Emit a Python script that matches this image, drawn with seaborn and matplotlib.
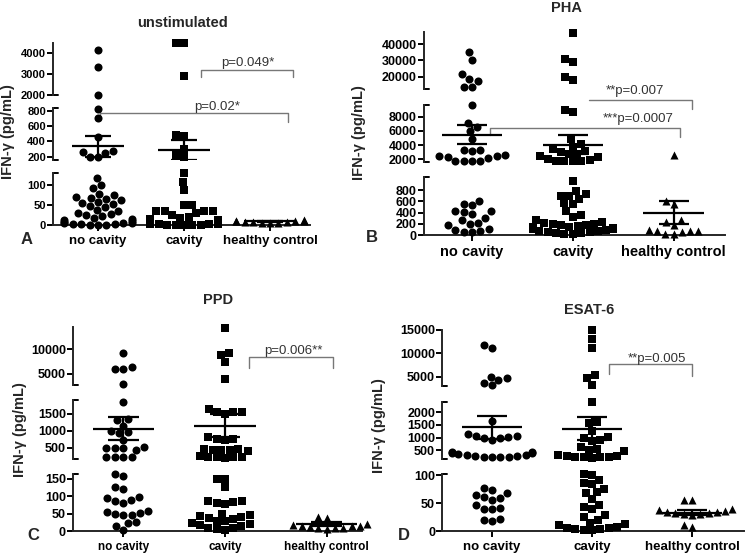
"""
IFN-gamma levels by cavity status, four stimulation conditions.
Broken y axes drawn as three stacked axes per panel.
"""
import matplotlib
matplotlib.use('Agg')
import matplotlib.pyplot as plt
import matplotlib.transforms as mtransforms
import seaborn as sns

groups = ['no cavity', 'cavity', 'healthy control']
markers = ['o', 's', '^']

# =============================================================================
# Data
# =============================================================================
# A - unstimulated
a_nocav = [4150, 3350, 2000, 820, 700, 460, 270, 260, 250, 195, 190,
           118, 100, 92, 78, 75, 70, 68, 65, 62, 58, 56, 52, 48, 45, 38,
           35, 30, 28, 25, 22, 18, 15, 12, 10, 8, 6, 5, 4, 3, 2, 2, 1, 0, 0]
a_cav = [4480, 4480, 2900, 480, 470, 300, 220, 195, 130, 108, 88, 50, 50,
         35, 35, 35, 35, 30, 25, 20, 18, 15, 12, 10, 10, 8, 8, 6, 5, 5, 4,
         3, 3, 2, 2, 1, 1, 0, 0, 0]
a_hc = [12, 11, 10, 10, 9, 8, 8, 7, 6, 5, 5]
a_mean = [340, 290, 9]
a_lo = [200, 160, 7]
a_hi = [470, 420, 11]

# B - PHA
b_nocav = [35300, 30600, 21500, 18500, 17200, 13800, 13800,
           9600, 7100, 6600, 6000, 4900, 3300, 3200, 3300, 2600, 2500, 2400,
           2300, 2200, 1800, 1750, 1700, 1700,
           600, 560, 530, 420, 420, 410, 380, 310, 260, 220, 200, 170, 100,
           90, 70, 60, 60]
b_cav = [47000, 31000, 29000, 20000, 18000,
         8900, 8700, 4900, 4100, 3800, 3500, 3100, 3000, 2800, 2700, 2500,
         2300, 2100, 1900, 1800, 1800, 1700, 1700,
         960, 780, 740, 700, 690, 650, 570, 560, 420, 350, 330, 260, 240,
         220, 200, 190, 180, 170, 160, 150, 140, 130, 120, 110, 100, 90, 80,
         70, 60, 50, 40, 30, 20, 10]
b_hc = [2600, 600, 550, 260, 240, 180, 90, 80, 80, 70, 60, 20, 10]
b_mean = [5400, 4000, 400]
b_lo = [4100, 2800, 200]
b_hi = [6800, 5400, 610]

# C - PPD
c_nocav = [9300, 6400, 6000, 6000, 2800,
           1850, 1350, 1300, 1150, 1000, 950, 930, 720, 520, 500, 500, 480,
           420, 230, 220, 220, 220,
           162, 158, 125, 120, 97, 95, 88, 85, 80, 58, 55, 52, 50, 45, 45,
           25, 22, 15, 2]
c_cav = [14300, 9200, 8800, 7400, 4000,
         1650, 1560, 1550, 1540, 1500, 800, 760, 750, 720, 460, 450, 440,
         430, 420, 400, 250, 240, 230, 220, 220, 210,
         165, 150, 150, 125, 85, 85, 82, 80, 78, 50, 45, 42, 40, 38, 35, 30,
         28, 22, 20, 18, 15, 10, 8, 5, 3]
c_hc = [40, 38, 20, 18, 15, 15, 14, 12, 10, 10, 8, 5]
c_mean = [1050, 1150, 20]
c_lo = [720, 800, 15]
c_hi = [1400, 1480, 25]

# D - ESAT-6
d_nocav = [11800, 11100, 5000, 4700, 4400, 3800, 3300,
           1650, 1150, 1050, 1020, 1000, 980, 1050, 900, 450, 420, 400, 380,
           350, 330, 300, 280, 260, 250, 240, 230, 220,
           78, 74, 68, 64, 62, 60, 56, 47, 42, 40, 40, 22, 18, 20]
d_cav = [14900, 13100, 11100, 5400, 4700, 3300,
         2380, 1620, 1550, 1260, 1020, 1000, 900, 880, 620, 560, 500, 480,
         300, 280, 260, 250, 240, 230, 220, 210,
         102, 100, 92, 86, 84, 76, 70, 68, 58, 47, 44, 40, 28, 26, 20, 15,
         12, 10, 8, 6, 5, 4, 3, 2, 1]
d_hc = [55, 55, 40, 38, 36, 35, 34, 33, 32, 30, 30, 28, 10, 8]
d_mean = [1400, 1350, 33]
d_lo = [950, 900, 28]
d_hi = [1830, 1800, 38]

# =============================================================================
# Layout (pixel positions in a 745x554 figure)
# =============================================================================
panels = [
    dict(data=[a_nocav, a_cav, a_hc], mean=a_mean, lo=a_lo, hi=a_hi,
         xpx=(53, 310), xlim=(-0.523, 2.465),
         segs=[((0, 130), 225, 173, [0, 50, 100]),
               ((157, 835), 160, 108, [200, 400, 600, 800]),
               ((2000, 4500), 95, 42.7, [2000, 3000, 4000])],
         title='unstimulated', title_xy=(182, 23), letter='A',
         letter_xy=(27, 240), ylab_xy=(8, 132), tick_fs=8, cat_fs=9.5,
         brackets=[(1.2, 2.27, 70, 77, 77, 'p=0.049*', 1.744, 63),
                   (0.02, 2.21, 112.7, 115, 121.7, 'p=0.02*', 1.38, 107)]),
    dict(data=[b_nocav, b_cav, b_hc], mean=b_mean, lo=b_lo, hi=b_hi,
         xpx=(423.7, 725), xlim=(-0.479, 2.509),
         segs=[((0, 1040), 235, 176.7, [0, 200, 400, 600, 800]),
               ((1660, 9650), 161.7, 105, [2000, 4000, 6000, 8000]),
               ((12200, 47800), 89.3, 31.7, [20000, 30000, 40000])],
         title='PHA', title_xy=(567, 8), letter='B',
         letter_xy=(372, 237), ylab_xy=(359, 133), tick_fs=9, cat_fs=10.5,
         brackets=[(1.157, 2.18, 100, 100, 109, '**p=0.007', 1.616, 90.7),
                   (0.18, 2.065, 127.7, 135, 136.7, '***p=0.0007', 1.65,
                    119)]),
    dict(data=[c_nocav, c_cav, c_hc], mean=c_mean, lo=c_lo, hi=c_hi,
         xpx=(72.7, 362), xlim=(-0.4975, 2.347),
         segs=[((0, 164), 531, 473.7, [0, 50, 100, 150]),
               ((176, 1894), 458.7, 400.3, [500, 1000, 1500]),
               ((2620, 14570), 385.3, 327, [5000, 10000])],
         title='PPD', title_xy=(218, 300), letter='C',
         letter_xy=(33, 535), ylab_xy=(20, 430), tick_fs=9, cat_fs=8.5,
         brackets=[(1.239, 2.065, 357, 367.7, 367.7, 'p=0.006**', 1.67,
                    351)]),
    dict(data=[d_nocav, d_cav, d_hc], mean=d_mean, lo=d_lo, hi=d_hi,
         xpx=(442, 743.7), xlim=(-0.5, 2.517),
         segs=[((0, 103), 531, 473.7, [0, 50, 100]),
               ((171, 2392), 458.7, 402, [500, 1000, 1500, 2000]),
               ((3030, 15000), 386.3, 329.7, [5000, 10000, 15000])],
         title='ESAT-6', title_xy=(589, 310), letter='D',
         letter_xy=(404, 535), ylab_xy=(379, 426), tick_fs=9, cat_fs=9.5,
         brackets=[(1.167, 2.0, 364.3, 373.7, 376, '**p=0.005', 1.65,
                    358.7)]),
]

# =============================================================================
# Plot
# =============================================================================
sns.set_theme(style='ticks')
plt.rcParams['font.family'] = ['Liberation Sans', 'DejaVu Sans']

W, H = 745, 554
fig = plt.figure(figsize=(W / 100, H / 100), dpi=100)
fig.patch.set_facecolor('white')

LW = 1.4
cap_px = 5

for p in panels:
    x0, x1 = p['xpx']
    axes = []
    for k, (lims, ybot, ytop, ticks) in enumerate(p['segs']):
        ax = fig.add_axes([x0 / W, 1 - ybot / H, (x1 - x0) / W,
                           (ybot - ytop) / H])
        ax.patch.set_alpha(0)
        for i, vals in enumerate(p['data']):
            seg = [v for v in vals if lims[0] <= v <= lims[1]]
            if seg:
                sns.swarmplot(x=[groups[i]] * len(seg), y=seg, order=groups,
                              marker=markers[i], color='black', size=5.8,
                              linewidth=0, ax=ax, warn_thresh=1)
        for coll in ax.collections:
            coll.set_clip_on(False)

        for i in range(3):
            ax.hlines(p['mean'][i], i - 0.3, i + 0.3, color='black',
                      lw=1.6, zorder=4)
            ax.vlines(i, p['lo'][i], p['hi'][i], color='black', lw=1.6,
                      zorder=4)
            ax.hlines([p['lo'][i], p['hi'][i]], i - 0.15, i + 0.15,
                      color='black', lw=1.6, zorder=4)

        ax.set_xlim(*p['xlim'])
        ax.set_ylim(*lims)
        ax.set_yticks(ticks)
        ax.set_yticklabels([str(t) for t in ticks], fontsize=p['tick_fs'],
                           fontweight='bold')
        ax.set_ylabel('')
        ax.set_xlabel('')
        for s in ['top', 'right']:
            ax.spines[s].set_visible(False)
        ax.spines['left'].set_linewidth(LW)
        ax.tick_params(axis='y', direction='out', length=4, width=LW,
                       pad=1, colors='black')
        if k == 0:
            ax.spines['bottom'].set_linewidth(LW)
            ax.set_xticks([0, 1, 2])
            ax.set_xticklabels(groups, fontsize=p['cat_fs'],
                               fontweight='bold')
            ax.tick_params(axis='x', direction='out', length=4, width=LW,
                           pad=3, colors='black')
        else:
            ax.spines['bottom'].set_visible(False)
            ax.set_xticks([])
            ax.plot([0, cap_px / (x1 - x0)], [0, 0], color='black', lw=LW,
                    transform=ax.transAxes, clip_on=False)
        if k < 2:
            ax.plot([0, cap_px / (x1 - x0)], [1, 1], color='black', lw=LW,
                    transform=ax.transAxes, clip_on=False)
        axes.append(ax)

    # significance brackets, y in figure pixels
    ax0 = axes[0]
    trans = mtransforms.blended_transform_factory(ax0.transData,
                                                  fig.transFigure)
    for (bl, br, yb, yl, yr, label, tx, ty) in p['brackets']:
        ax0.plot([bl, bl, br, br],
                 [1 - yl / H, 1 - yb / H, 1 - yb / H, 1 - yr / H],
                 color='#777777', lw=1.0, transform=trans, clip_on=False)
        ax0.text(tx, 1 - ty / H, label, transform=trans, ha='center',
                 va='center', fontsize=9.5, color='#333333')

    fig.text(p['title_xy'][0] / W, 1 - p['title_xy'][1] / H, p['title'],
             ha='center', va='center', fontsize=10.5, fontweight='bold')
    fig.text(p['letter_xy'][0] / W, 1 - p['letter_xy'][1] / H,
             p['letter'], ha='center', va='center', fontsize=12,
             fontweight='bold')
    fig.text(p['ylab_xy'][0] / W, 1 - p['ylab_xy'][1] / H,
             'IFN-γ (pg/mL)', ha='center', va='center', rotation=90,
             fontsize=10.5, fontweight='bold')

fig.savefig('out.png', dpi=100, facecolor='white')
